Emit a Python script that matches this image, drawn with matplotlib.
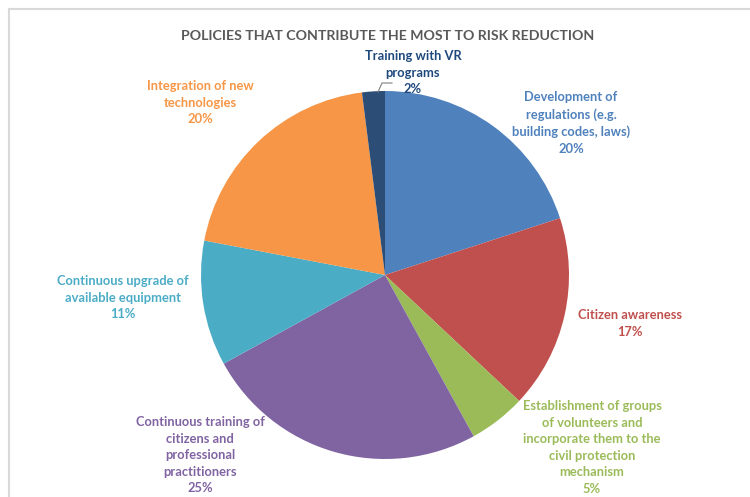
import matplotlib.pyplot as plt
from matplotlib.lines import Line2D

policies = [
    "Development of\nregulations (e.g.\nbuilding codes, laws)",
    "Citizen awareness",
    "Establishment of groups\nof volunteers and\nincorporate them to the\ncivil protection\nmechanism",
    "Continuous training of\ncitizens and\nprofessional\npractitioners",
    "Continuous upgrade of\navailable equipment",
    "Integration of new\ntechnologies",
    "Training with VR\nprograms",
]
shares = [20, 17, 5, 25, 11, 20, 2]
colors = ["#4F81BD", "#C0504D", "#9BBB59", "#8064A2", "#4BACC6", "#F79646", "#2C4D75"]
label_colors = ["#4F81BD", "#C0504D", "#9BBB59", "#8064A2", "#4BACC6", "#F79646", "#1F497D"]
# label anchor (x, top y) in pixel space
label_pos = [(571, 91), (630, 309), (592, 400), (200, 416), (123, 275), (200, 80), (413, 50)]

W, H = 750, 497
plt.rcParams['font.family'] = ['Lato', 'DejaVu Sans']

fig = plt.figure(figsize=(W / 100, H / 100), dpi=100)
ax = fig.add_axes([0, 0, 1, 1])

cx, cy, r = 385, 275, 184
ax.pie(shares, colors=colors, startangle=90, counterclock=False,
       center=(cx, H - cy), radius=r, frame=False,
       wedgeprops=dict(linewidth=0))

ax.set_xlim(0, W)
ax.set_ylim(0, H)
ax.set_aspect('equal')
ax.axis('off')

# light frame along top and left
ax.add_line(Line2D([9, W], [H - 9, H - 9], color="#D9D9D9", lw=1.5))
ax.add_line(Line2D([9, 9], [H - 9, 0], color="#D9D9D9", lw=1.5))

ax.text(388, H - 36, "POLICIES THAT CONTRIBUTE THE MOST TO RISK REDUCTION",
        ha='center', va='center', fontsize=10.2, fontweight='bold', color="#595959")

for name, val, col, (lx, ly) in zip(policies, shares, label_colors, label_pos):
    ax.text(lx, H - ly, f"{name}\n{val}%", ha='center', va='top',
            fontsize=9.3, fontweight='bold', color=col, linespacing=1.46)

# leader for the small VR slice
ax.add_line(Line2D([378, 382, 392], [H - 92, H - 83, H - 83], color="#7F7F7F", lw=0.8))

fig.savefig("out.png", dpi=100)
